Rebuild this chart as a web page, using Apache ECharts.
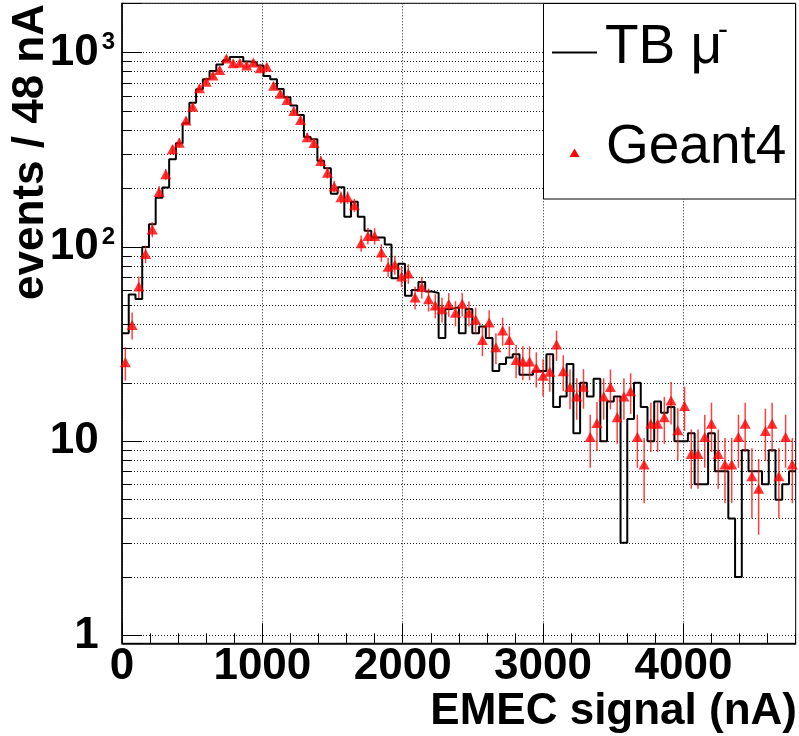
<!DOCTYPE html>
<html><head><meta charset="utf-8">
<script src="https://cdn.jsdelivr.net/npm/echarts@6/dist/echarts.min.js"></script>
<style>html,body{margin:0;padding:0;background:#fff}#c{width:799px;height:736px}</style>
</head><body><div id="c"></div>
<script>
// ---- data ----
const binWidth = 48;           // nA per bin
const xMin = 0, xMax = 4800;
const yMin = 0.912, yMax = 1795;
const xMajorInterval = 1000, xMinorInterval = 200;
const yTickExponents = [0, 1, 2, 3];

// TB mu- histogram counts, one per 48 nA bin starting at 0
const tbCounts = [36,57,54,100,131,179,202,283,342,433,
  553,648,730,805,868,915,950,950,900,890,
  860,759,730,650,590,535,478,368,358,278,
  254,188,203,143,171,143,121,112,112,103,
  69,82,56,60,66,59,58,34,48,49,
  36,48,36,39,34,23,25,27,28,22,
  22,23,23,28,15,17,25,11,20,17,
  21,10,16,17,3,13,20,15,10,16,
  14,15,10,10,11,6,6,11,7,7,
  4,2,9,7,7,6,9,5,6,7];

// Geant4 values at bin centres
const g4Values = [25.5,39.7,62.5,92,123,192,237,318,344,447,
  527,656,709,762,815,932,882,888,859,890,
  831,847,675,615,571,501,450,367,343,277,
  241,205,180,180,164,104.5,114,114,93.5,79,
  81,70.5,73,55,62.2,53.8,50,47.8,50.8,45.8,
  51,45.8,42.2,33.2,40.8,30.5,37.1,33.2,26.2,25.7,
  25.7,23.8,21.7,22.8,31.5,22.9,19,17,19.1,10.5,
  12.4,17,19,13.3,17,18.1,10.5,7.6,12.3,12.3,
  13.3,16.2,11.4,15.2,8.6,8.6,10.5,12.3,8.6,7.6,
  7.6,10.5,12.3,6.6,5.7,11.3,12.3,6.6,10.5,7.6];

// Geant4 error bar half-lengths
const g4Errors = [5.0,6.3,7.9,9.6,11,14,15,18,19,21,
  23,26,27,28,29,31,30,30,29,30,
  29,29,26,25,24,22,21,19,19,17,
  16,14,13,13,13,10,11,11,9.7,8.9,
  9,8.4,8.5,7.4,7.9,7.3,7.1,6.9,7.1,6.8,
  7.1,6.8,6.5,5.8,6.4,5.5,6.1,5.8,5.1,5.1,
  5.1,4.9,4.7,4.8,5.6,4.8,4.4,4.1,4.4,3.2,
  3.5,4.1,4.4,3.6,4.1,4.3,3.2,2.8,3.5,3.5,
  3.6,4.0,3.4,3.9,2.9,2.9,3.2,3.5,2.9,2.8,
  2.8,3.2,3.5,2.6,2.4,3.4,3.5,2.6,3.2,2.8];

const xTitle = 'EMEC signal (nA)';
const yTitle = 'events / 48 nA';
const legendNames = ['TB \u03bc', 'Geant4'];

// ---- build series data ----
const tbStep = tbCounts.map((v, i) => [xMin + i * binWidth, v]);
tbStep.push([xMax, tbCounts[tbCounts.length - 1]]);
const g4Points = g4Values.map((v, i) => [xMin + i * binWidth + binWidth / 2, v]);
const g4Bars = g4Values.map((v, i) => [xMin + i * binWidth + binWidth / 2, v - g4Errors[i], v + g4Errors[i]]);

const FONT = '"Liberation Sans", Arial, Helvetica, sans-serif';
const dotted = { color: '#222', width: 1, type: [1, 2] };

const chart = echarts.init(document.getElementById('c'), null, { renderer: 'canvas' });
chart.setOption({
  animation: false,
  backgroundColor: '#fff',
  grid: { left: 122, right: 3.3, top: 3.3, bottom: 92.7, show: true, borderColor: '#000', borderWidth: 1, containLabel: false },
  xAxis: [{
    type: 'value', min: xMin, max: xMax, interval: xMajorInterval, position: 'bottom',
    axisLine: { show: true, onZero: false, lineStyle: { color: '#000', width: 1.5 } },
    axisTick: { show: true, inside: true, length: 20, lineStyle: { color: '#000', width: 1 } },
    axisLabel: { show: true, showMaxLabel: false, margin: 2, color: '#000', fontFamily: FONT, fontWeight: 'bold', fontSize: 44,
      formatter: function (v) { return String(Math.round(v)); } },
    splitLine: { show: true, lineStyle: dotted }
  }, {
    type: 'value', min: xMin, max: xMax, interval: xMinorInterval, position: 'bottom',
    axisLine: { show: false },
    axisTick: { show: true, inside: true, length: 10, lineStyle: { color: '#000', width: 1 } },
    axisLabel: { show: false },
    splitLine: { show: false }
  }],
  yAxis: {
    type: 'log', logBase: 10, min: yMin, max: yMax,
    axisLine: { show: true, onZero: false, lineStyle: { color: '#000', width: 1.5 } },
    axisTick: { show: true, inside: true, length: 20, lineStyle: { color: '#000', width: 1 } },
    minorTick: { show: true, splitNumber: 9, length: 10, lineStyle: { color: '#000', width: 1 } },
    splitLine: { show: true, lineStyle: dotted },
    minorSplitLine: { show: true, lineStyle: dotted },
    axisLabel: {
      show: true, showMinLabel: false, showMaxLabel: false, margin: 7, color: '#000',
      formatter: function (v) {
        const e = Math.round(Math.log10(v));
        if (yTickExponents.indexOf(e) < 0 || Math.abs(v - Math.pow(10, e)) > 1e-6 * v) return '';
        if (e === 0) return '{b|1}{h|0}';
        if (e === 1) return '{b|10}{h|0}';
        return '{b|10}{s|' + e + '}';
      },
      rich: {
        b: { fontFamily: FONT, fontWeight: 'bold', fontSize: 44, lineHeight: 44, color: '#000', padding: [13, 0, 13, 0] },
        s: { fontFamily: FONT, fontWeight: 'bold', fontSize: 24, lineHeight: 24, color: '#000', verticalAlign: 'top', padding: [0, 0, 0, 3] },
        h: { fontFamily: FONT, fontWeight: 'bold', fontSize: 24, lineHeight: 24, color: 'rgba(0,0,0,0)', verticalAlign: 'top', padding: [0, 0, 0, 3] }
      }
    }
  },
  series: [{
    name: legendNames[0], type: 'line', step: 'end', data: tbStep, xAxisIndex: 0,
    symbol: 'none', lineStyle: { color: '#000', width: 2 }, z: 3
  }, {
    name: 'Geant4 errors', type: 'custom', xAxisIndex: 0, data: g4Bars, z: 4,
    renderItem: function (params, api) {
      const x = api.value(0);
      const lo = Math.max(api.value(1), yMin);
      const p1 = api.coord([x, lo]);
      const p2 = api.coord([x, api.value(2)]);
      return { type: 'line', shape: { x1: p1[0], y1: p1[1], x2: p2[0], y2: p2[1] },
        style: { stroke: 'rgba(255,0,0,0.75)', lineWidth: 1.5 } };
    }
  }, {
    name: legendNames[1], type: 'scatter', data: g4Points, xAxisIndex: 0,
    symbol: 'triangle', symbolSize: [11, 10], itemStyle: { color: '#ff0000' }, z: 5
  }],
  graphic: [
    { type: 'text', rotation: Math.PI / 2, x: 31, y: 4,
      style: { text: yTitle, fontFamily: FONT, fontWeight: 'bold', fontSize: 44, fill: '#000', align: 'right', verticalAlign: 'middle' } },
    { type: 'text', x: 797, y: 712,
      style: { text: xTitle, fontFamily: FONT, fontWeight: 'bold', fontSize: 44, fill: '#000', align: 'right', verticalAlign: 'middle' } },
    { type: 'rect', shape: { x: 543.5, y: 3.5, width: 252, height: 195.5 },
      style: { fill: '#fff', stroke: '#000', lineWidth: 1 }, z: 10 },
    { type: 'line', shape: { x1: 552, y1: 52.5, x2: 597, y2: 52.5 }, style: { stroke: '#000', lineWidth: 2 }, z: 11 },
    { type: 'text', x: 605, y: 48, z: 11,
      style: { text: legendNames[0], fontFamily: FONT, fontSize: 55, fill: '#000', align: 'left', verticalAlign: 'middle' } },
    { type: 'text', x: 718, y: 31, z: 11,
      style: { text: '-', fontFamily: FONT, fontSize: 30, fill: '#000', align: 'left', verticalAlign: 'middle' } },
    { type: 'polygon', shape: { points: [[574.5, 148.5], [579.5, 157], [569.5, 157]] }, style: { fill: '#ff0000' }, z: 11 },
    { type: 'text', x: 606, y: 148, z: 11,
      style: { text: legendNames[1], fontFamily: FONT, fontSize: 55, fill: '#000', align: 'left', verticalAlign: 'middle' } }
  ]
});
</script>
</body></html>
